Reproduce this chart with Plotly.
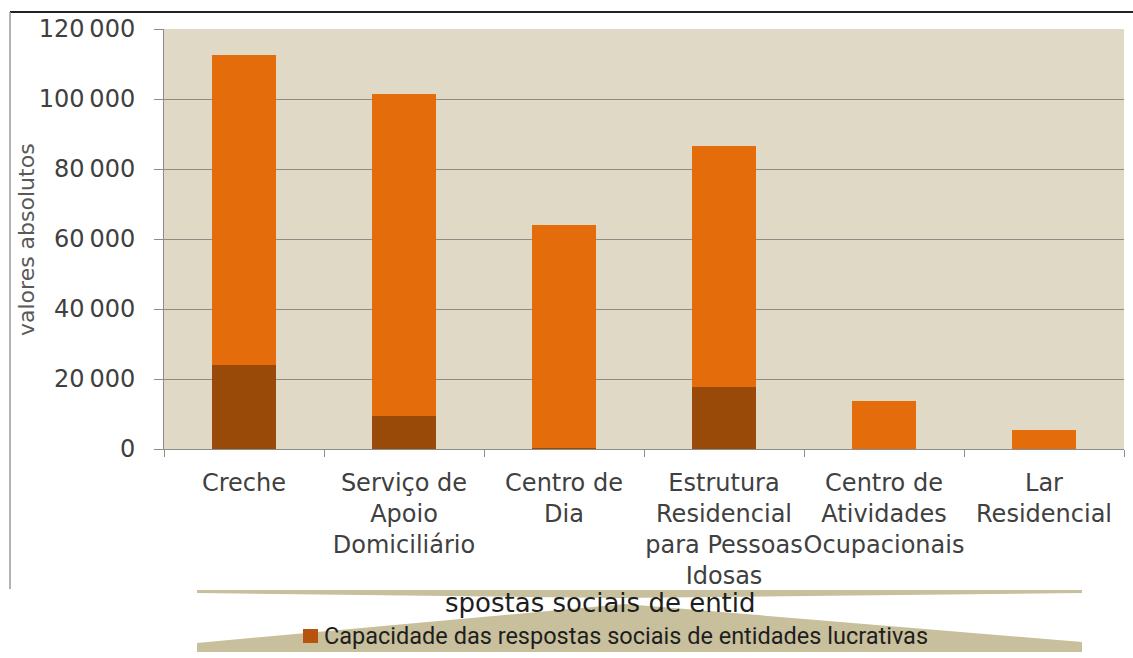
import plotly.graph_objects as go

categories = [
    "Creche",
    "Serviço de<br>Apoio<br>Domiciliário",
    "Centro de<br>Dia",
    "Estrutura<br>Residencial<br>para Pessoas<br>Idosas",
    "Centro de<br>Atividades<br>Ocupacionais",
    "Lar<br>Residencial",
]
lucrativas = [24000, 9400, 400, 17700, 0, 0]
nao_lucrativas = [88600, 92100, 63600, 68800, 13700, 5400]
y_tick_vals = [0, 20000, 40000, 60000, 80000, 100000, 120000]
y_tick_text = ["0", "20\u2009000", "40\u2009000", "60\u2009000", "80\u2009000", "100\u2009000", "120\u2009000"]
legend_text = "Capacidade das respostas sociais de entidades lucrativas"
legend_fragment = "spostas sociais de entid"

W, H = 1133, 658
L, R, T, B = 164, 9, 29, 209
PW, PH = W - L - R, H - T - B


def px(x):
    return (x - L) / PW


def py(y):
    return (H - B - y) / PH


def path(points):
    return "M " + " L ".join(f"{px(x):.5f},{py(y):.5f}" for x, y in points) + " Z"


fig = go.Figure()
fig.add_trace(go.Bar(x=categories, y=lucrativas, name="lucrativas",
                     marker=dict(color="#9A4A08", line=dict(width=0))))
fig.add_trace(go.Bar(x=categories, y=nao_lucrativas, name="não lucrativas",
                     marker=dict(color="#E46C0A", line=dict(width=0))))

font_main = "DejaVu Sans, sans-serif"

fig.update_layout(
    width=W, height=H,
    margin=dict(l=L, r=R, t=T, b=B),
    paper_bgcolor="white",
    plot_bgcolor="#DFD9C6",
    barmode="stack",
    bargap=0.6,
    showlegend=False,
    font=dict(family=font_main, size=22, color="#404040"),
)
fig.update_xaxes(
    type="category",
    tickson="boundaries",
    ticks="outside", ticklen=7, tickcolor="#8C8C8C",
    showline=True, linecolor="#8C8C8C", linewidth=1,
    showgrid=False,
    ticklabelstandoff=12,
    tickfont=dict(family=font_main, size=24, color="#404040"),
    tickangle=0,
)
fig.update_yaxes(
    range=[0, 120000],
    tickvals=y_tick_vals, ticktext=y_tick_text,
    ticks="outside", ticklen=9, tickcolor="#8C8C8C",
    showline=True, linecolor="#8C8C8C", linewidth=1,
    showgrid=True, gridcolor="#8E8C84", gridwidth=1,
    zeroline=False,
    ticklabelstandoff=14,
    tickfont=dict(family=font_main, size=24, color="#404040"),
)

shapes = []
# frame lines
shapes.append(dict(type="line", xref="paper", yref="paper",
                   x0=px(10), x1=px(W), y0=py(12), y1=py(12),
                   line=dict(color="#222222", width=2), layer="above"))
shapes.append(dict(type="line", xref="paper", yref="paper",
                   x0=px(10), x1=px(10), y0=py(12), y1=py(589),
                   line=dict(color="#9A9A9A", width=1.5), layer="above"))
# distorted legend backdrop
shapes.append(dict(type="path", xref="paper", yref="paper",
                   path=path([(197, 590), (1082, 590), (1082, 593), (620, 598), (197, 593)]),
                   fillcolor="#C8C09C", line=dict(width=0), layer="above"))
shapes.append(dict(type="path", xref="paper", yref="paper",
                   path=path([(197, 652), (197, 643), (625, 604), (1082, 642), (1082, 652)]),
                   fillcolor="#C8C09C", line=dict(width=0), layer="above"))
# legend marker
shapes.append(dict(type="rect", xref="paper", yref="paper",
                   x0=px(303), x1=px(318), y0=py(629), y1=py(643),
                   fillcolor="#B8520F", line=dict(width=0), layer="above"))
fig.update_layout(shapes=shapes)

annotations = [
    dict(text="valores absolutos", xref="paper", yref="paper",
         x=px(26), y=py(240), xanchor="center", yanchor="middle",
         textangle=-90, showarrow=False,
         font=dict(family=font_main, size=22, color="#595959")),
    dict(text=legend_text, xref="paper", yref="paper",
         x=px(322), y=py(636), xanchor="left", yanchor="middle",
         showarrow=False,
         font=dict(family="Roboto, sans-serif", size=23.5, color="#1E1E1E")),
    dict(text=legend_fragment, xref="paper", yref="paper",
         x=px(600), y=py(603), xanchor="center", yanchor="middle",
         showarrow=False,
         font=dict(family="DejaVu Sans, sans-serif", size=26, color="#1E1E1E")),
]
fig.update_layout(annotations=annotations)

fig.write_html("out.html", config={"displayModeBar": False},
               post_script="document.body.style.margin='0';document.body.style.padding='0';")
